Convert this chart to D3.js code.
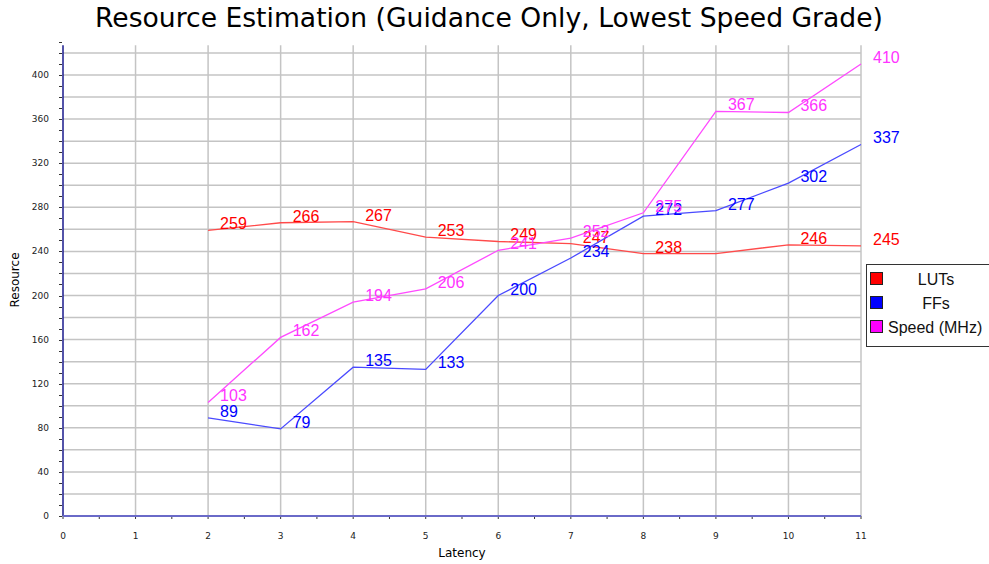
<!DOCTYPE html>
<html>
<head>
<meta charset="utf-8">
<script src="https://cdn.jsdelivr.net/npm/d3@7"></script>
<style>
  body { margin: 0; background: #fff; }
  svg { display: block; font-family: "Liberation Sans", Arial, sans-serif; }
</style>
</head>
<body>
<svg width="989" height="564"></svg>
<script>
// latency values along the x axis
const latency = [2, 3, 4, 5, 6, 7, 8, 9, 10, 11];
const luts  = [259, 266, 267, 253, 249, 247, 238, 238, 246, 245];
const ffs   = [89, 79, 135, 133, 200, 234, 272, 277, 302, 337];
const speed = [103, 162, 194, 206, 241, 252, 275, 367, 366, 410];
const seriesNames = ["LUTs", "FFs", "Speed (MHz)"];
const xTicks = [0, 1, 2, 3, 4, 5, 6, 7, 8, 9, 10, 11];
const yTicks = [0, 40, 80, 120, 160, 200, 240, 280, 320, 360, 400];

const svg = d3.select("svg");
const x = d3.scaleLinear().domain([0, 11]).range([63, 861]);
const y = d3.scaleLinear().domain([0, 400]).range([516, 75]);
const yTop = y(427);

const series = [
  { name: seriesNames[0], vals: luts,  line: "#ff4a4a", text: "#ff0000", sw: "#ff0000", skip: [9] },
  { name: seriesNames[1], vals: ffs,   line: "#4a4aff", text: "#0000ff", sw: "#0000ff", skip: [] },
  { name: seriesNames[2], vals: speed, line: "#ff4aff", text: "#ff33ff", sw: "#ff00ff", skip: [] }
];

// grid
const grid = svg.append("g");
grid.selectAll(".hg").data(d3.range(20, 421, 20)).enter().append("line")
  .attr("x1", x(0)).attr("x2", x(11))
  .attr("y1", d => y(d)).attr("y2", d => y(d))
  .attr("stroke", "#c4c4c4").attr("stroke-width", 1.5);
grid.selectAll(".vg").data(d3.range(1, 12)).enter().append("line")
  .attr("x1", d => x(d)).attr("x2", d => x(d))
  .attr("y1", yTop).attr("y2", y(0))
  .attr("stroke", "#c4c4c4").attr("stroke-width", 1.5);

// y axis
const yAxis = svg.append("g");
yAxis.selectAll(".mt").data(d3.range(0, 431, 10)).enter().append("line")
  .attr("x1", x(0) - 4).attr("x2", x(0) - 1)
  .attr("y1", d => Math.round(y(d)) + 0.5).attr("y2", d => Math.round(y(d)) + 0.5)
  .attr("stroke", "#333").attr("stroke-width", 1);
yAxis.selectAll("text").data(yTicks).enter().append("text")
  .attr("x", x(0) - 14).attr("y", d => y(d) + 3)
  .attr("text-anchor", "end").attr("font-size", 9).attr("fill", "#222")
  .style("font-family", "Tahoma, 'DejaVu Sans', sans-serif")
  .text(d => d);
yAxis.append("line").attr("x1", x(0)).attr("x2", x(0)).attr("y1", yTop).attr("y2", y(0))
  .attr("stroke", "#1a1a8c").attr("stroke-width", 1.5);

// x axis
const xAxis = svg.append("g");
xAxis.selectAll(".mt").data(d3.range(0, 11.01, 0.5)).enter().append("line")
  .attr("x1", d => x(d)).attr("x2", d => x(d))
  .attr("y1", y(0)).attr("y2", y(0) + 3)
  .attr("stroke", "#333");
xAxis.append("line").attr("x1", x(0)).attr("x2", x(11)).attr("y1", y(0)).attr("y2", y(0))
  .attr("stroke", "#6a6ac8").attr("stroke-width", 2);
xAxis.selectAll("text").data(xTicks).enter().append("text")
  .attr("x", d => x(d)).attr("y", 539)
  .attr("text-anchor", "middle").attr("font-size", 9).attr("fill", "#222")
  .style("font-family", "Tahoma, 'DejaVu Sans', sans-serif")
  .text(d => d);

// axis titles
svg.append("text").attr("x", 462).attr("y", 557).attr("text-anchor", "middle")
  .attr("font-size", 12).style("font-family", "Tahoma, 'DejaVu Sans', sans-serif").text("Latency");
svg.append("text").attr("transform", "translate(19,280) rotate(-90)").attr("text-anchor", "middle")
  .attr("font-size", 12).style("font-family", "Tahoma, 'DejaVu Sans', sans-serif").text("Resource");

// title
svg.append("text").attr("x", 489).attr("y", 27).attr("text-anchor", "middle")
  .attr("font-size", 26).style("font-family", "'DejaVu Sans', Verdana, sans-serif")
  .attr("textLength", 788).attr("lengthAdjust", "spacingAndGlyphs")
  .text("Resource Estimation (Guidance Only, Lowest Speed Grade)");

// lines and labels
const line = d3.line().x(d => x(d[0])).y(d => y(d[1]));
series.forEach(s => {
  const pts = latency.map((l, i) => [l, s.vals[i]]);
  svg.append("path").datum(pts).attr("d", line)
    .attr("fill", "none").attr("stroke", s.line).attr("stroke-width", 1.3);
  svg.append("g").selectAll("text").data(pts.filter(p => !s.skip.includes(p[0]))).enter().append("text")
    .attr("x", d => x(d[0]) + 12).attr("y", d => y(d[1]) - 1)
    .attr("font-size", 16).attr("fill", s.text)
    .text(d => d[1]);
});

// legend
const lg = svg.append("g");
lg.append("rect").attr("x", 866.5).attr("y", 264.5).attr("width", 126).attr("height", 82)
  .attr("fill", "#fff").attr("stroke", "#333");
series.forEach((s, i) => {
  lg.append("rect").attr("x", 870.5).attr("y", 272.5 + i * 24).attr("width", 12).attr("height", 12)
    .attr("fill", s.sw).attr("stroke", "#222");
  lg.append("text").attr("x", i === 2 ? 888 : 936).attr("y", 285 + i * 24)
    .attr("text-anchor", i === 2 ? "start" : "middle")
    .attr("font-size", 16).attr("fill", "#111").text(s.name);
});
</script>
</body>
</html>
